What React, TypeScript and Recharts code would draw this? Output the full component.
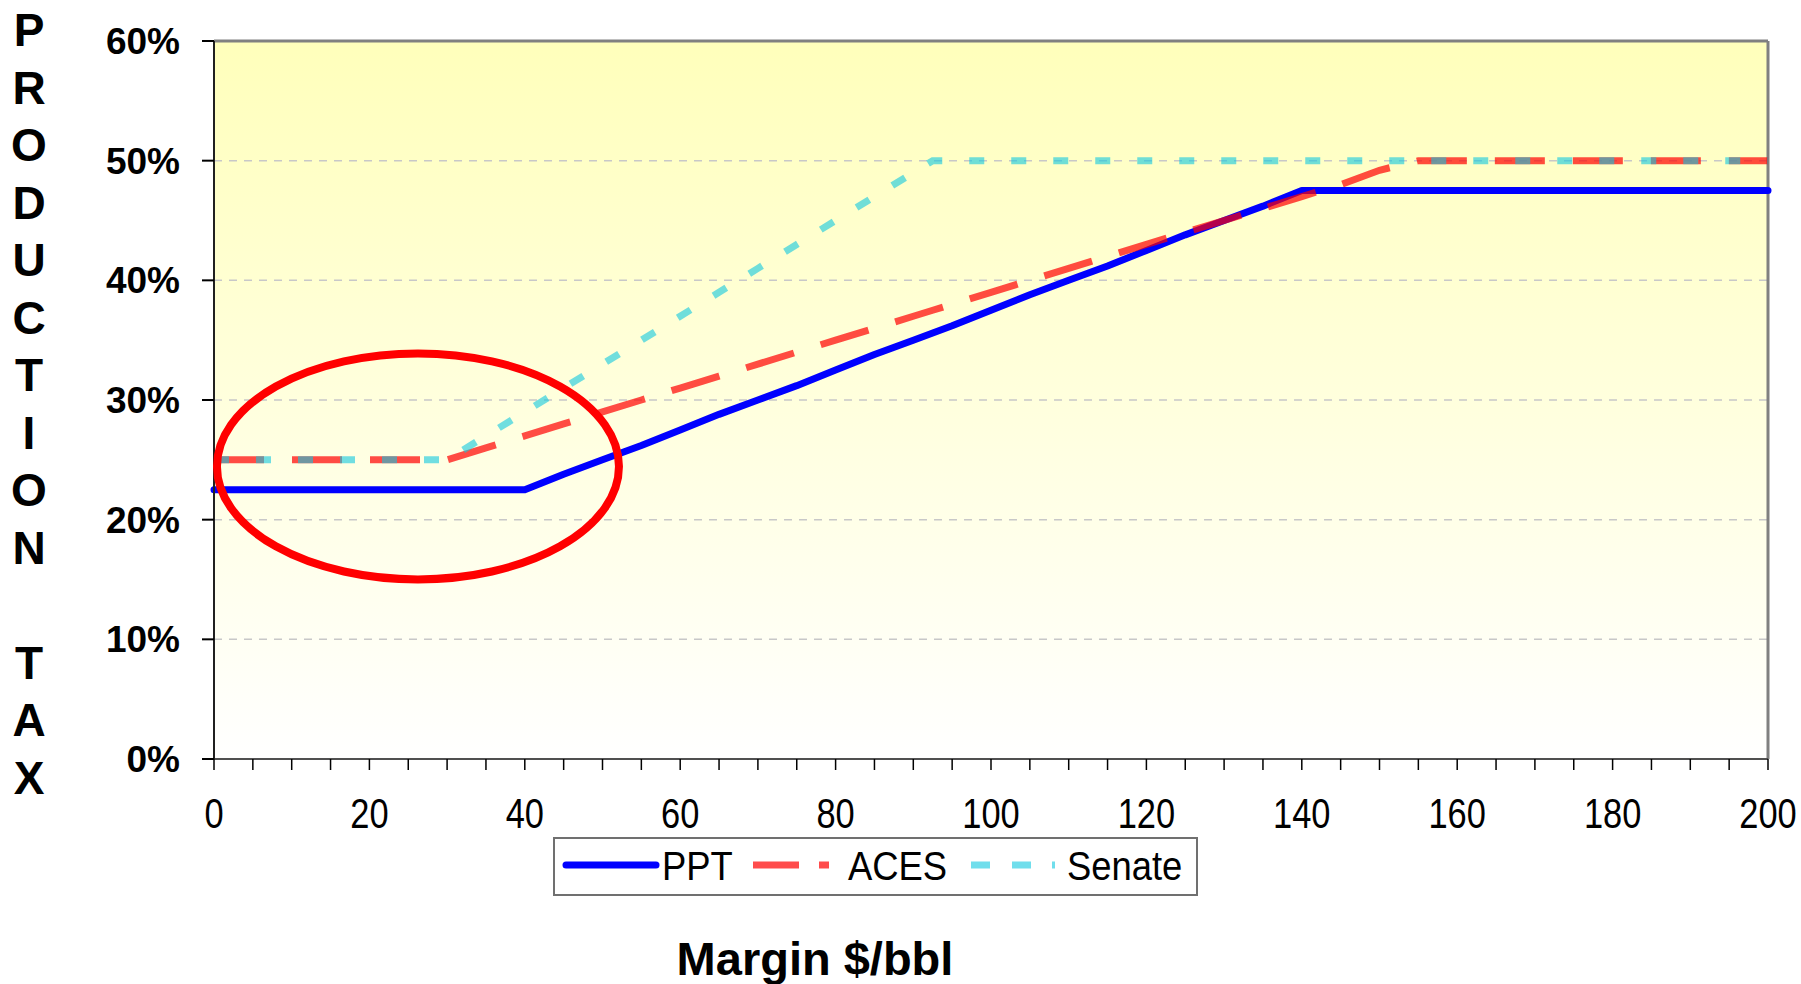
import { LineChart, Line, XAxis, YAxis, CartesianGrid, ReferenceLine, ReferenceDot } from "recharts";

// margin in $/bbl, tax rates in percent
const margins = [
  0, 5, 10, 15, 20, 25, 30, 35, 40, 45, 50, 55, 60, 65, 70, 75, 80, 85, 90, 92.5,
  95, 100, 105, 110, 115, 120, 125, 130, 135, 140, 145, 150, 155, 160, 165, 170, 175, 180, 185, 190, 195, 200,
];
const ppt = [
  22.5, 22.5, 22.5, 22.5, 22.5, 22.5, 22.5, 22.5, 22.5, 23.8, 25, 26.2, 27.5, 28.8, 30, 31.2, 32.5, 33.8, 35, 35.6,
  36.2, 37.5, 38.8, 40, 41.2, 42.5, 43.8, 45, 46.2, 47.5, 47.5, 47.5, 47.5, 47.5, 47.5, 47.5, 47.5, 47.5, 47.5, 47.5, 47.5, 47.5,
];
const aces = [
  25, 25, 25, 25, 25, 25, 25, 26, 27, 28, 29, 30, 31, 32, 33, 34, 35, 36, 37, 37.5,
  38, 39, 40, 41, 42, 43, 44, 45, 46, 47, 48, 49.2, 50, 50, 50, 50, 50, 50, 50, 50, 50, 50,
];
const senate = [
  25, 25, 25, 25, 25, 25, 25, 27, 29, 31, 33, 35, 37, 39, 41, 43, 45, 47, 49, 50,
  50, 50, 50, 50, 50, 50, 50, 50, 50, 50, 50, 50, 50, 50, 50, 50, 50, 50, 50, 50, 50, 50,
];

const yTicks = [0, 10, 20, 30, 40, 50, 60];
const xTicks = [
  0, 5, 10, 15, 20, 25, 30, 35, 40, 45, 50, 55, 60, 65, 70, 75, 80, 85, 90, 95, 100,
  105, 110, 115, 120, 125, 130, 135, 140, 145, 150, 155, 160, 165, 170, 175, 180, 185, 190, 195, 200,
];
const xLabelStep = 20;

const yTitle = "PRODUCTION TAX";
const xTitle = "Margin $/bbl";

// centre of the red ring drawn round the low-margin region
const ringMargin = 26.25;
const ringTax = 24.45;

const SANS = "'Liberation Sans', Arial, Helvetica, sans-serif";
const NARROW = 0.82; // the original uses a condensed face; squeeze regular Arial

const data = margins.map((m, i) => ({ margin: m, ppt: ppt[i], aces: aces[i], senate: senate[i] }));

function StackedTitle() {
  return (
    <g>
      {yTitle.split("").map((ch, i) => (
        <text
          key={i}
          x={29}
          y={46 + i * 57.5}
          textAnchor="middle"
          fontFamily={SANS}
          fontWeight="bold"
          fontSize={46}
          fill="#000"
        >
          {ch}
        </text>
      ))}
    </g>
  );
}

function XTitle() {
  return (
    <text x={815} y={975} textAnchor="middle" fontFamily={SANS} fontWeight="bold" fontSize={47} fill="#000">
      {xTitle}
    </text>
  );
}

const XTick = (props: any) => {
  const { x, y, payload } = props;
  if (payload.value % xLabelStep !== 0) return null;
  return (
    <g transform={`translate(${x},${y}) scale(${NARROW},1)`}>
      <text x={0} y={0} dy="0.71em" textAnchor="middle" fontSize={42} fontFamily={SANS} fill="#000">
        {payload.value}
      </text>
    </g>
  );
};

const Ring = (props: any) => (
  <ellipse cx={props.cx} cy={props.cy} rx={201} ry={113} fill="none" stroke="#FF0000" strokeWidth={8} />
);

function LegendText({ x, label }: { x: number; label: string }) {
  return (
    <g transform={`translate(${x},41) scale(0.91,1)`}>
      <text x={0} y={0} fontSize={40} fontFamily={SANS} fill="#000">
        {label}
      </text>
    </g>
  );
}

function LegendBox() {
  return (
    <div
      style={{
        position: "absolute",
        left: 553,
        top: 837,
        width: 645,
        height: 59,
        border: "2px solid #707070",
        background: "#fff",
        boxSizing: "border-box",
      }}
    >
      <svg width={641} height={55} style={{ display: "block" }}>
        <line x1={11} x2={101} y1={26} y2={26} stroke="#0000FF" strokeWidth={7} strokeLinecap="round" />
        <LegendText x={107} label="PPT" />
        <line x1={198} x2={275} y1={26} y2={26} stroke="#FF0000" strokeOpacity={0.7} strokeWidth={7} strokeDasharray="46 20 10 100" />
        <LegendText x={293} label="ACES" />
        <line x1={416} x2={500} y1={26} y2={26} stroke="#10C8E0" strokeOpacity={0.6} strokeWidth={7} strokeDasharray="19 22 19 21 4 100" />
        <LegendText x={512} label="Senate" />
      </svg>
    </div>
  );
}

export default function App() {
  return (
    <div style={{ position: "absolute", left: 0, top: 0, width: 1801, height: 984, background: "#fff" }}>
      <LineChart width={1801} height={984} data={data} margin={{ top: 41, right: 33, left: 0, bottom: 0 }}>
        <defs>
          <linearGradient id="plotBg" x1="0" y1="0" x2="0" y2="1">
            <stop offset="0%" stopColor="#FFFFBB" />
            <stop offset="100%" stopColor="#FFFFFF" />
          </linearGradient>
        </defs>
        <CartesianGrid
          vertical={false}
          fill="url(#plotBg)"
          fillOpacity={1}
          stroke="#C8C8C8"
          strokeDasharray="8 7"
          strokeWidth={1.5}
        />
        <XAxis
          type="number"
          dataKey="margin"
          domain={[0, 200]}
          ticks={xTicks}
          interval={0}
          tick={<XTick />}
          tickLine={{ stroke: "#000", strokeWidth: 1.5 }}
          tickSize={11}
          tickMargin={28}
          axisLine={{ stroke: "#505050", strokeWidth: 2 }}
          height={225}
          label={{ content: () => <XTitle /> }}
        />
        <YAxis
          domain={[0, 60]}
          ticks={yTicks}
          interval={0}
          tickFormatter={(v) => `${v}%`}
          width={214}
          tick={{ fontSize: 37, fontWeight: "bold", fill: "#000", fontFamily: SANS }}
          tickLine={{ stroke: "#000", strokeWidth: 2 }}
          tickSize={12}
          tickMargin={22}
          axisLine={{ stroke: "#202020", strokeWidth: 2 }}
          label={{ content: () => <StackedTitle /> }}
        />
        <ReferenceLine y={60} stroke="#808080" strokeWidth={3} />
        <ReferenceLine x={200} stroke="#808080" strokeWidth={3} />
        <Line
          type="linear"
          dataKey="ppt"
          name="PPT"
          stroke="#0000FF"
          strokeWidth={7}
          strokeLinejoin="round"
          strokeLinecap="round"
          dot={false}
          activeDot={false}
          isAnimationActive={false}
        />
        <Line
          type="linear"
          dataKey="aces"
          name="ACES"
          stroke="#FF0000"
          strokeOpacity={0.7}
          strokeWidth={7}
          strokeDasharray="50 28"
          dot={false}
          activeDot={false}
          isAnimationActive={false}
        />
        <Line
          type="linear"
          dataKey="senate"
          name="Senate"
          stroke="#10C8E0"
          strokeOpacity={0.6}
          strokeWidth={7}
          strokeDasharray="15 27"
          dot={false}
          activeDot={false}
          isAnimationActive={false}
        />
        <ReferenceDot x={ringMargin} y={ringTax} shape={Ring} ifOverflow="visible" />
      </LineChart>
      <LegendBox />
    </div>
  );
}
